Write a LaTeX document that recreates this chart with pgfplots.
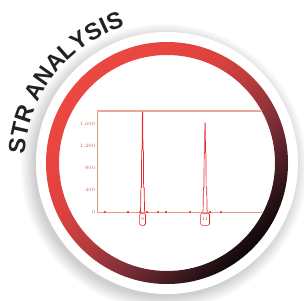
\documentclass[border=0pt]{standalone}
\usepackage{pgfplots}
\pgfplotsset{compat=1.18}
\usepackage{fontspec}
\newfontfamily\titlefont{Liberation Sans}
\usetikzlibrary{calc}
\definecolor{r1}{HTML}{EC4842}
\definecolor{r2}{HTML}{E84440}
\definecolor{r3}{HTML}{DC4240}
\definecolor{r4}{HTML}{B83C3C}
\definecolor{r5}{HTML}{85303A}
\definecolor{r6}{HTML}{4A1E24}
\definecolor{r7}{HTML}{0C080A}
\definecolor{txt}{HTML}{222222}
\definecolor{pk}{HTML}{E8262C}
\definecolor{axc}{HTML}{E29A88}
\definecolor{topc}{HTML}{E8A898}
\definecolor{tkc}{HTML}{C86858}
\pgfdeclarehorizontalshading{ringshade}{100bp}{color(0bp)=(r1); color(25bp)=(r1); color(33.3bp)=(r2); color(41.7bp)=(r3); color(50bp)=(r4); color(58.3bp)=(r5); color(66.7bp)=(r6); color(75bp)=(r7); color(100bp)=(r7)}
\begin{document}
\begin{tikzpicture}[x=1pt,y=1pt]
\useasboundingbox (0,0) rectangle (304,300);
\fill[white] (0,0) rectangle (304,300);
\foreach \k in {0,...,11} { \fill[black, opacity=0.016] (164,133) circle ({130+\k*1.2}); }
\fill[white] (167,137) circle (131);
\shade[shading=ringshade, shading angle=-45, even odd rule] (167,137) circle (121) (167,137) circle (108);
\begin{axis}[at={(97pt,88pt)}, anchor=south west, scale only axis,
  width=165pt, height=101pt,
  xmin=0, xmax=100, ymin=0, ymax=1840,
  axis x line=box, axis y line=left,
  axis line style={-, draw=axc, line width=0.7pt},
  ytick={0,400,800,1200,1600},
  yticklabels={0,400,800,{1,200},{1,600}},
  yticklabel style={font=\fontsize{5}{5}\selectfont, text=tkc, inner sep=1pt},
  ytick style={draw=tkc, line width=0.8pt},
  major tick length=1pt,
  xtick={27.6,65.5},
  xticklabels={9,11},
  xticklabel style={draw=pk, rounded corners=1.4pt, line width=0.6pt, text=pk,
    font=\fontsize{4.5}{4.5}\selectfont, minimum height=12pt, inner sep=1.4pt, yshift=-1pt},
  xtick style={draw=none},
  clip=false]
\draw[topc, line width=1.4pt] (rel axis cs:0,1) -- (rel axis cs:1,1);
\addplot[pk, line width=0.7pt] coordinates {(26.2,0)(26.4,40)(26.6,440)(26.95,450)(27.05,1100)(27.35,1150)(27.5,1822)(27.7,1822)(27.85,1150)(28.15,1100)(28.25,450)(28.6,440)(28.8,40)(29.0,0)};
\addplot[pk, line width=0.7pt] coordinates {(64.1,0)(64.3,40)(64.5,440)(64.85,450)(64.95,1050)(65.25,1100)(65.4,1621)(65.6,1621)(65.75,1100)(66.05,1050)(66.15,450)(66.5,440)(66.7,40)(66.9,0)};
\addplot[only marks, mark=*, mark size=0.75pt, color=pk] coordinates {(4.8,0)(18.8,0)(26.1,0)(30.3,0)(37,0)(41.8,0)(56.4,0)(68.5,0)(75.2,0)};
\end{axis}
\foreach \ch/\ang in {S/173.3, T/167.3, R/161.0, A/151.5, N/144.7, A/137.9, L/131.6, Y/125.5, S/119.2, I/114.8, S/110.3} {
  \node[anchor=base, inner sep=0pt, text=txt, rotate=\ang-90, font=\titlefont\bfseries\fontsize{23.5}{23.5}\selectfont] at ($(167,137)+(\ang:142.6)$) {\ch};
}
\end{tikzpicture}
\end{document}
